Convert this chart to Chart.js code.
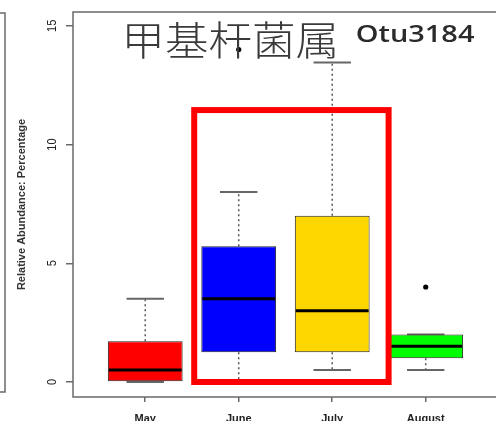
<!DOCTYPE html>
<html>
<head>
<meta charset="utf-8">
<script src="https://cdn.jsdelivr.net/npm/chart.js@4/dist/chart.umd.min.js"></script>
<style>
  html, body { margin: 0; padding: 0; background: #fff; overflow: hidden; }
  canvas { display: block; }
</style>
</head>
<body>
<canvas id="c" width="496" height="421"></canvas>
<script>
// Box-and-whisker summary per month (relative abundance, %)
const months      = ['May', 'June', 'July', 'August'];
const whiskerLow  = [0,    0,    0.5,   0.5];
const quartile1   = [0,    1.25, 1.25,  1.0];
const medians     = [0.5,  3.5,  3.0,   1.5];
const quartile3   = [1.72, 5.72, 7.0,   2.0];
const whiskerHigh = [3.5,  8.0,  13.45, 2.0];
const outlierMonths = ['June', 'August'];
const outlierValues = [14, 4];
const yTickValues = [0, 5, 10, 15];
const boxColors = ['#ff0000', '#0000ff', '#ffd700', '#00ff00'];
const highlightMonths = ['June', 'July'];

const titleCn = '甲基杆菌属';
const titleOtu = 'Otu3184';
const yAxisTitle = 'Relative Abundance: Percentage';

const FRAME = '#6a6a6a';
const hStretch = 1.2;

function monthPos(m) { return months.indexOf(m) + 1; }

// draw text so that its ink fills the given box
function fitText(ctx, text, family, weight, box, color) {
  ctx.save();
  ctx.textBaseline = 'alphabetic';
  ctx.textAlign = 'left';
  ctx.font = weight + ' 100px ' + family;
  const m = ctx.measureText(text);
  const inkH = m.actualBoundingBoxAscent + m.actualBoundingBoxDescent;
  const size = 100 * (box.bottom - box.top) / inkH;
  ctx.font = weight + ' ' + size + 'px ' + family;
  const m2 = ctx.measureText(text);
  const w = m2.actualBoundingBoxLeft + m2.actualBoundingBoxRight;
  const sx = (box.right - box.left) / w;
  ctx.fillStyle = color;
  ctx.translate(box.left, box.top + m2.actualBoundingBoxAscent);
  ctx.scale(sx, 1);
  ctx.fillText(text, m2.actualBoundingBoxLeft, 0);
  ctx.restore();
}

const boxExtras = {
  id: 'boxExtras',
  beforeDatasetsDraw(chart) {
    const { ctx, scales: { x, y } } = chart;
    ctx.save();
    months.forEach((m, i) => {
      const cx = x.getPixelForValue(i + 1);
      const capHalf = x.getPixelForValue(i + 1 + 0.2) - cx;
      // dashed whiskers
      ctx.strokeStyle = '#555';
      ctx.lineWidth = 1.5;
      ctx.setLineDash([2, 3]);
      ctx.beginPath();
      ctx.moveTo(cx, y.getPixelForValue(quartile3[i]));
      ctx.lineTo(cx, y.getPixelForValue(whiskerHigh[i]));
      ctx.moveTo(cx, y.getPixelForValue(quartile1[i]));
      ctx.lineTo(cx, y.getPixelForValue(whiskerLow[i]));
      ctx.stroke();
      // caps
      ctx.setLineDash([]);
      ctx.strokeStyle = '#666';
      ctx.lineWidth = 2;
      ctx.beginPath();
      [whiskerHigh[i], whiskerLow[i]].forEach(v => {
        const py = y.getPixelForValue(v);
        ctx.moveTo(cx - capHalf, py);
        ctx.lineTo(cx + capHalf, py);
      });
      ctx.stroke();
    });
    ctx.restore();
  },
  afterDatasetsDraw(chart) {
    const { ctx, scales: { x, y } } = chart;
    ctx.save();
    ctx.strokeStyle = '#000';
    ctx.lineWidth = 3;
    months.forEach((m, i) => {
      const l = x.getPixelForValue(i + 1 - 0.4);
      const r = x.getPixelForValue(i + 1 + 0.4);
      const py = y.getPixelForValue(medians[i]);
      ctx.beginPath();
      ctx.moveTo(l + 1, py);
      ctx.lineTo(r - 1, py);
      ctx.stroke();
    });
    ctx.restore();
  },
  afterDraw(chart) {
    const { ctx, chartArea: a, scales: { x, y } } = chart;
    ctx.save();
    // plot frame
    ctx.strokeStyle = FRAME;
    ctx.lineWidth = 1.5;
    ctx.beginPath();
    ctx.moveTo(a.right + 5, a.top);
    ctx.lineTo(a.left, a.top);
    ctx.lineTo(a.left, a.bottom);
    ctx.lineTo(a.right + 5, a.bottom);
    ctx.stroke();
    // edge of the neighbouring panel
    ctx.beginPath();
    ctx.moveTo(0, a.top + 1);
    ctx.lineTo(5, a.top + 1);
    ctx.lineTo(5, 392);
    ctx.lineTo(0, 392);
    ctx.stroke();

    // rotated y tick labels
    ctx.fillStyle = '#222';
    ctx.font = '11px "Liberation Sans", Arial, sans-serif';
    ctx.textAlign = 'center';
    ctx.textBaseline = 'middle';
    yTickValues.forEach(v => {
      ctx.save();
      ctx.translate(52, y.getPixelForValue(v));
      ctx.scale(hStretch, 1);
      ctx.rotate(-Math.PI / 2);
      ctx.fillText(String(v), 0, 0);
      ctx.restore();
    });

    // titles
    fitText(ctx, titleCn, '"Noto Sans CJK SC", sans-serif', '300',
            { left: 127, right: 335, top: 21, bottom: 58 }, '#3a3a3a');
    fitText(ctx, titleOtu, '"Open Sans", sans-serif', '600',
            { left: 357, right: 475, top: 25, bottom: 42.5 }, '#2a2a2a');

    // red highlight around the two summer months
    const h0 = monthPos(highlightMonths[0]);
    const h1 = monthPos(highlightMonths[highlightMonths.length - 1]);
    const rl = x.getPixelForValue(h0 - 0.476);
    const rr = x.getPixelForValue(h1 + 0.603);
    const rt = y.getPixelForValue(11.45);
    const rb = y.getPixelForValue(0);
    ctx.strokeStyle = '#ff0000';
    ctx.lineWidth = 6;
    ctx.strokeRect(rl, rt, rr - rl, rb - rt);
    ctx.restore();
  }
};

new Chart(document.getElementById('c'), {
  type: 'bar',
  data: {
    datasets: [
      {
        type: 'bar',
        data: months.map((m, i) => ({ x: i + 1, y: [quartile1[i], quartile3[i]] })),
        backgroundColor: boxColors,
        borderColor: '#222',
        borderWidth: 1,
        borderSkipped: false,
        barPercentage: 1,
        categoryPercentage: 0.8
      },
      {
        type: 'scatter',
        data: outlierMonths.map((m, i) => ({ x: monthPos(m), y: outlierValues[i] })),
        backgroundColor: '#000',
        borderWidth: 0,
        pointRadius: 2.6
      }
    ]
  },
  options: {
    responsive: false,
    animation: false,
    devicePixelRatio: 1,
    layout: { padding: { left: 0, right: 0, top: 12, bottom: 0 } },
    plugins: { legend: { display: false }, tooltip: { enabled: false } },
    scales: {
      x: {
        type: 'linear',
        min: 0.2275,
        max: 4.709,
        offset: false,
        afterBuildTicks(scale) { scale.ticks = months.map((m, i) => ({ value: i + 1 })); },
        afterFit(scale) { scale.height = 24; },
        ticks: {
          autoSkip: false,
          maxRotation: 0,
          padding: 10,
          color: '#222',
          font: { family: '"Liberation Sans", Arial, sans-serif', size: 11, weight: 'bold' },
          callback: v => months[v - 1] || ''
        },
        grid: { offset: false, drawOnChartArea: false, drawTicks: true, tickLength: 5, color: FRAME, lineWidth: 1.5 },
        border: { display: false }
      },
      y: {
        type: 'linear',
        min: -0.632,
        max: 15.58,
        afterBuildTicks(scale) { scale.ticks = yTickValues.map(v => ({ value: v })); },
        afterFit(scale) { scale.width = 73; },
        ticks: { display: false },
        grid: { drawOnChartArea: false, drawTicks: true, tickLength: 7, color: FRAME, lineWidth: 1.5 },
        border: { display: false },
        title: {
          display: true,
          text: yAxisTitle,
          color: '#333',
          padding: { top: 15, bottom: 0 },
          font: { family: '"Liberation Sans", Arial, sans-serif', size: 11, weight: 'bold' }
        }
      }
    }
  },
  plugins: [boxExtras]
});
</script>
</body>
</html>
